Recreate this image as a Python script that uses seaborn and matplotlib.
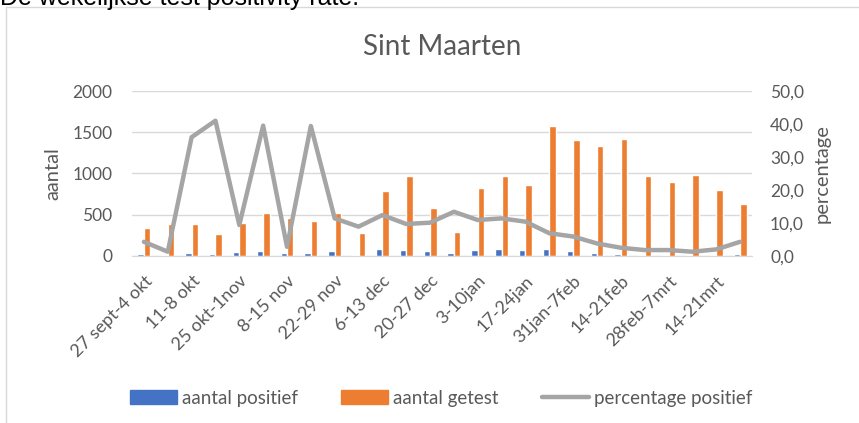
import numpy as np
import pandas as pd
import matplotlib
matplotlib.use('Agg')
import matplotlib.pyplot as plt
from matplotlib.patches import Rectangle, Patch
from matplotlib.lines import Line2D
import seaborn as sns

weeks = ['27 sept-4 okt', '4-11 okt', '11-8 okt', '18-25 okt', '25 okt-1nov', '1-8 nov',
         '8-15 nov', '15-22 nov', '22-29 nov', '29 nov-6 dec', '6-13 dec', '13-20 dec',
         '20-27 dec', '27 dec-3jan', '3-10jan', '10-17jan', '17-24jan', '24-31jan',
         '31jan-7feb', '7-14feb', '14-21feb', '21-28feb', '28feb-7mrt', '7-14mrt',
         '14-21mrt', '21-28mrt']
positief = [20, 15, 40, 25, 45, 60, 35, 40, 55, 15, 80, 75, 55, 40, 70, 90, 70, 90,
            65, 40, 25, 15, 15, 8, 8, 20]
getest = [343, 387, 383, 262, 396, 520, 464, 424, 517, 282, 787, 965, 577, 294, 827,
          969, 863, 1574, 1400, 1328, 1413, 969, 900, 984, 799, 626]
percentage = [4.3, 1.3, 36.0, 41.0, 9.4, 39.5, 2.8, 39.4, 11.4, 8.9, 12.4, 9.7, 10.1,
              13.4, 10.9, 11.4, 10.4, 6.9, 5.9, 3.8, 2.5, 1.8, 1.8, 1.3, 2.0, 4.3]

blue = '#4472C4'
orange = '#ED7D31'
grey = '#A5A5A5'
txt = '#595959'

sns.set_style('white')
plt.rcParams['font.family'] = ['Lato', 'DejaVu Sans']

df = pd.DataFrame({'week': weeks * 2,
                   'value': positief + getest,
                   'serie': ['aantal positief'] * len(weeks) + ['aantal getest'] * len(weeks)})

fig = plt.figure(figsize=(8.59, 4.23), dpi=100)
ax = fig.add_axes([132 / 859, 1 - 256 / 423, 620 / 859, 165 / 423])
sns.barplot(data=df, x='week', y='value', hue='serie', order=weeks,
            palette=[blue, orange], width=0.54, saturation=1, ax=ax, legend=False)
ax.set_xlim(-0.5, len(weeks) - 0.5)
ax.set_ylim(0, 2000)
ax.set_yticks([0, 500, 1000, 1500, 2000])
ax.yaxis.grid(True, color='#D9D9D9', lw=1)
ax.set_axisbelow(True)
for s in ['top', 'left', 'right']:
    ax.spines[s].set_visible(False)
ax.spines['bottom'].set_color('#D9D9D9')
ax.set_xticks(range(0, len(weeks), 2))
ax.set_xticklabels(weeks[::2], rotation=45, ha='right', rotation_mode='anchor')
ax.tick_params(axis='x', length=0, labelsize=13, colors=txt, pad=12)
ax.tick_params(axis='y', length=0, labelsize=12.5, colors=txt, pad=14)
ax.set_xlabel('')
ax.set_ylabel('aantal', fontsize=14.5, color=txt, labelpad=8)

ax2 = ax.twinx()
sns.lineplot(x=np.arange(len(weeks)), y=percentage, color=grey, lw=3.2, ax=ax2)
ax2.set_ylim(0, 50)
ax2.set_yticks([0, 10, 20, 30, 40, 50])
ax2.set_yticklabels([f'{v:.1f}'.replace('.', ',') for v in [0, 10, 20, 30, 40, 50]])
ax2.tick_params(axis='y', length=0, labelsize=12.5, colors=txt, pad=13)
ax2.set_ylabel('percentage', fontsize=14.5, color=txt, labelpad=7)
for s in ax2.spines.values():
    s.set_visible(False)

fig.text(442 / 859, 1 - 47 / 423, 'Sint Maarten', fontsize=20, color=txt,
         ha='center', va='center')

handles = [Patch(color=blue), Patch(color=orange), Line2D([], [], color=grey, lw=3.2)]
fig.legend(handles, ['aantal positief', 'aantal getest', 'percentage positief'],
           loc='center', bbox_to_anchor=(441 / 859, 1 - 398 / 423), ncol=3, frameon=False,
           fontsize=13.5, labelcolor=txt, handlelength=2.5, handleheight=0.75,
           handletextpad=0.28, columnspacing=2.3)

fig.patches.append(Rectangle((6 / 859, -0.1), 1.1, 1.1 - 7 / 423,
                             transform=fig.transFigure, fill=False, ec='#D9D9D9', lw=1))
fig.text(0.0, 1 - 5 / 423, 'De wekelijkse test positivity rate:', fontsize=18,
         family=['Liberation Sans', 'DejaVu Sans'], color='black', ha='left', va='baseline')

fig.savefig('out.png', dpi=100)
